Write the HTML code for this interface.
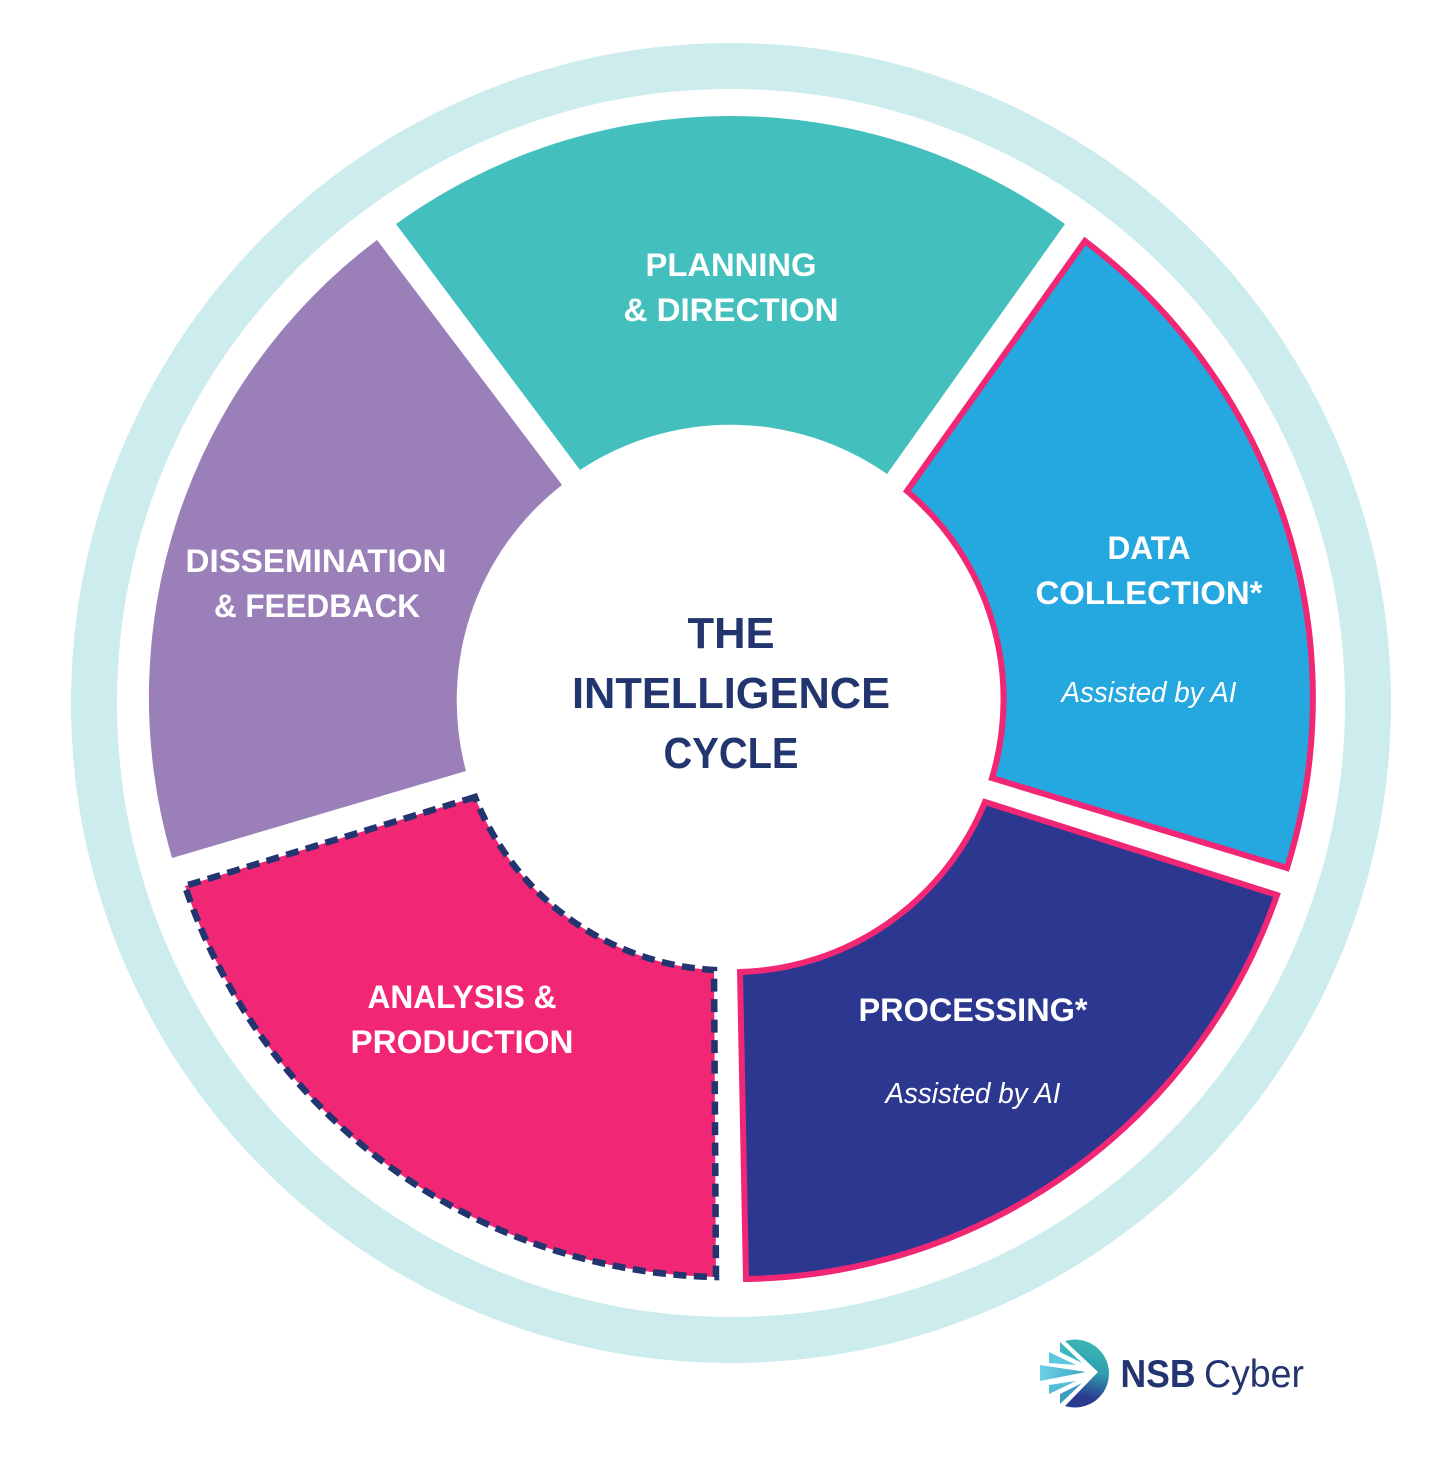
<!DOCTYPE html>
<html><head><meta charset="utf-8"><style>
html,body{margin:0;padding:0;background:#fff;width:1455px;height:1471px;overflow:hidden}
svg{display:block}
text{font-family:"Liberation Sans",sans-serif;text-anchor:middle}
.b{font-weight:700;font-size:32px;fill:#fff}
.i{font-style:italic;font-size:29px;fill:#fff}
.c{font-weight:700;font-size:44px;fill:#22356f}
</style></head><body>
<svg width="1455" height="1471" viewBox="0 0 1455 1471" xmlns="http://www.w3.org/2000/svg">
<defs>
<linearGradient id="g" x1="0.6" y1="0" x2="0.45" y2="1"><stop offset="0" stop-color="#3cb8b4"/><stop offset="0.45" stop-color="#2f9fb0"/><stop offset="0.85" stop-color="#2b3b8f"/><stop offset="1" stop-color="#2b3b8f"/></linearGradient>
<linearGradient id="g2" x1="0" y1="0" x2="1" y2="0"><stop offset="0" stop-color="#6fd0e6"/><stop offset="1" stop-color="#3aa5c4"/></linearGradient>
</defs>
<circle cx="731" cy="703" r="637" fill="none" stroke="#cdeced" stroke-width="46"/>
<path d="M396 224A572 572 0 0 1 1065 224L887 474A273 273 0 0 0 580 470Z" fill="#43c0bd"/>
<path d="M1085 241A572 572 0 0 1 1287 868L992 778A273 273 0 0 0 907 491Z" fill="#25a7e0" stroke="#f12776" stroke-width="6"/>
<path d="M985 802L1277 895A572 572 0 0 1 746 1279L740 972A273 273 0 0 0 985 802Z" fill="#2c388f" stroke="#f12776" stroke-width="6"/>
<path d="M475 797L185 886A572 572 0 0 0 716 1277L714 970A273 273 0 0 1 475 797Z" fill="#f12776" stroke="#22356f" stroke-width="6.500" stroke-dasharray="13 7.500"/>
<path d="M377 240A572 572 0 0 0 172 858L466 771A273 273 0 0 1 562 485Z" fill="#9a7fb9"/>
<text class="b" x="731" y="276" textLength="171" lengthAdjust="spacingAndGlyphs">PLANNING</text>
<text class="b" x="731" y="321" textLength="215" lengthAdjust="spacingAndGlyphs">&amp; DIRECTION</text>
<text class="b" x="1149" y="559" textLength="83" lengthAdjust="spacingAndGlyphs">DATA</text>
<text class="b" x="1149" y="604" textLength="227" lengthAdjust="spacingAndGlyphs">COLLECTION*</text>
<text class="i" x="1149" y="702" textLength="175" lengthAdjust="spacingAndGlyphs">Assisted by AI</text>
<text class="b" x="973" y="1021" textLength="229" lengthAdjust="spacingAndGlyphs">PROCESSING*</text>
<text class="i" x="973" y="1103" textLength="175" lengthAdjust="spacingAndGlyphs">Assisted by AI</text>
<text class="b" x="462" y="1008" textLength="189" lengthAdjust="spacingAndGlyphs">ANALYSIS &amp;</text>
<text class="b" x="462" y="1053" textLength="223" lengthAdjust="spacingAndGlyphs">PRODUCTION</text>
<text class="b" x="316" y="572" textLength="261" lengthAdjust="spacingAndGlyphs">DISSEMINATION</text>
<text class="b" x="317" y="617" textLength="206" lengthAdjust="spacingAndGlyphs">&amp; FEEDBACK</text>
<text class="c" x="731" y="648" textLength="87" lengthAdjust="spacingAndGlyphs">THE</text>
<text class="c" x="731" y="708" textLength="318" lengthAdjust="spacingAndGlyphs">INTELLIGENCE</text>
<text class="c" x="731" y="768" textLength="135" lengthAdjust="spacingAndGlyphs">CYCLE</text>
<path d="M1065 1341A34 34 0 1 1 1065 1406L1098 1372Z" fill="url(#g)"/>
<path d="M1060 1342L1082 1363L1060 1352Z" fill="#3cb8c0"/>
<path d="M1049 1352L1076 1365L1049 1363Z" fill="#5cc8dc"/>
<path d="M1040 1365L1086 1372L1040 1381Z" fill="url(#g2)"/>
<path d="M1049 1394L1076 1381L1049 1385Z" fill="#55bcd6"/>
<path d="M1060 1404L1082 1383L1060 1394Z" fill="#3f9cc0"/>
<text x="1158" y="1387" font-size="39" font-weight="700" fill="#22356f" textLength="75" lengthAdjust="spacingAndGlyphs">NSB</text>
<text x="1254" y="1387" font-size="39" fill="#22356f" textLength="100" lengthAdjust="spacingAndGlyphs">Cyber</text>
</svg>
</body></html>
